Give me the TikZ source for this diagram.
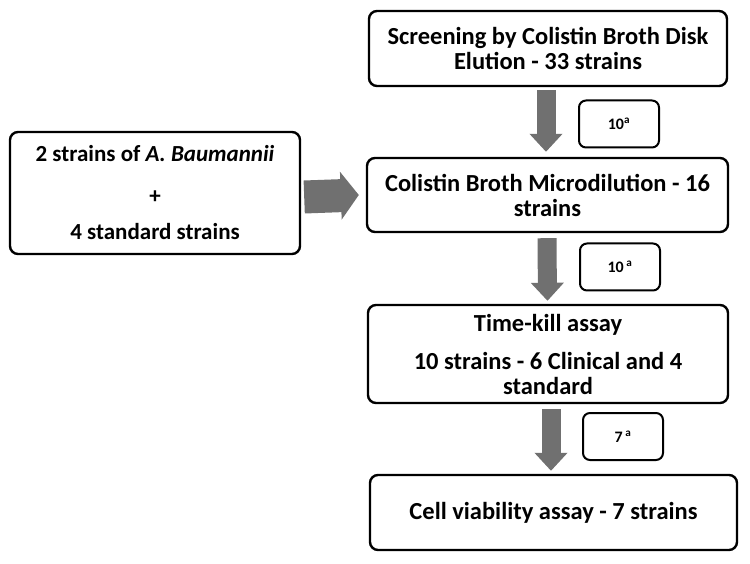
\documentclass[tikz,border=0pt]{standalone}
\usepackage{fontspec}
\setmainfont{Carlito}
\usepackage{xcolor}
\usetikzlibrary{arrows.meta, positioning}
\definecolor{flowgray}{RGB}{112,112,112}

\begin{document}
\begin{tikzpicture}[
      x=1pt, y=-1pt,
      font=\bfseries\fontsize{24.5}{25}\selectfont,
      box/.style={draw, line width=2.4pt, rounded corners=8pt, align=center,
                  inner sep=2pt},
      tag/.style={draw, line width=2pt, rounded corners=7pt, align=center,
                  minimum width=80pt, minimum height=47pt, inner sep=1pt,
                  font=\bfseries\fontsize{16}{18}\selectfont},
      fat/.style={line width=19pt, flowgray,
                  -{Triangle[width=32pt, length=18pt]}},
    ]
    \useasboundingbox (0,0) rectangle (750,564);

    % ---- main column ----
    \node[box, minimum width=358pt, minimum height=75pt] (screen) at (548,48.5)
      {Screening by Colistin Broth Disk\\Elution - 33 strains};
    \node[box, minimum width=361pt, minimum height=74pt] (micro) at (547.5,195)
      {Colistin Broth Microdilution - 16\\strains};
    \node[box, minimum width=360pt, minimum height=98pt] (tkill) at (548,354)
      {Time-kill assay\\[13pt]10 strains - 6 Clinical and 4\\standard};
    \node[box, minimum width=367pt, minimum height=75pt] (viab) at (553.5,512.5)
      {Cell viability assay - 7 strains};

    % ---- extra strains on the left ----
    \node[box, minimum width=290pt, minimum height=122pt,
          font=\bfseries\fontsize{23}{25}\selectfont] (extra) at (155,193)
      {2 strains of \textit{A. Baumannii}\\[17pt]+\\[11pt]4 standard strains};

    % ---- counts beside the arrows ----
    \node[tag] (n1) at (619,124) {10\textsuperscript{a}};
    \node[tag] (n2) at (620,267) {10\,\textsuperscript{a}};
    \node[tag] (n3) at (623,436.5) {7\,\textsuperscript{a}};

    % ---- arrows ----
    \draw[fat] ([xshift=-2pt, yshift=-3pt]screen.south)
      -- ([xshift=-1.5pt, yshift=5pt]micro.north);
    \draw[fat] ([xshift=-0.5pt, yshift=-5pt]micro.south)
      -- ([yshift=3pt]micro.south |- tkill.north);
    \draw[fat] ([xshift=3pt, yshift=-5pt]tkill.south)
      -- ([xshift=3pt, yshift=3pt]tkill.south |- viab.north);
    \draw[line width=33pt, flowgray, -{Triangle[width=47pt, length=18pt]}]
      ([xshift=3pt, yshift=-4pt]extra.east) -- ([xshift=-7pt]micro.west);
  \end{tikzpicture}
\end{document}
